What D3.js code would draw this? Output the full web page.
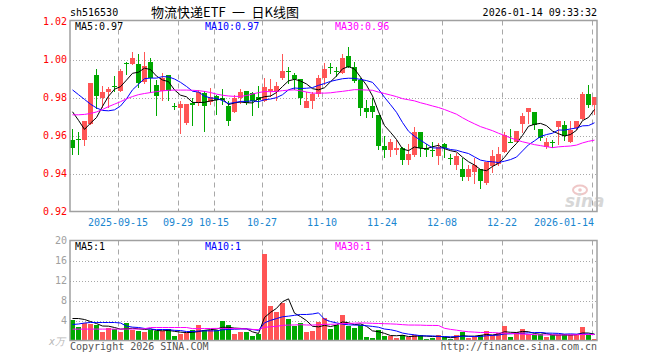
<!DOCTYPE html>
<html>
<head>
<meta charset="utf-8">
<script src="https://cdn.jsdelivr.net/npm/d3@7"></script>
<style>
  body { margin: 0; background: #fff; }
  svg { display: block; }
  text { font-family: "DejaVu Sans Mono", monospace; font-size: 10px; }
</style>
</head>
<body>
<svg id="chart" width="660" height="360"></svg>
<script>
// trading days shown, 2025-09-03 .. 2026-01-14
const dates = [
  '2025-09-03','2025-09-04','2025-09-05','2025-09-08','2025-09-09','2025-09-10','2025-09-11','2025-09-12','2025-09-15','2025-09-16',
  '2025-09-17','2025-09-18','2025-09-19','2025-09-22','2025-09-23','2025-09-24','2025-09-25','2025-09-26','2025-09-29','2025-09-30',
  '2025-10-09','2025-10-10','2025-10-13','2025-10-14','2025-10-15','2025-10-16','2025-10-17','2025-10-20','2025-10-21','2025-10-22',
  '2025-10-23','2025-10-24','2025-10-27','2025-10-28','2025-10-29','2025-10-30','2025-10-31','2025-11-03','2025-11-04','2025-11-05',
  '2025-11-06','2025-11-07','2025-11-10','2025-11-11','2025-11-12','2025-11-13','2025-11-14','2025-11-17','2025-11-18','2025-11-19',
  '2025-11-20','2025-11-21','2025-11-24','2025-11-25','2025-11-26','2025-11-27','2025-11-28','2025-12-01','2025-12-02','2025-12-03',
  '2025-12-04','2025-12-05','2025-12-08','2025-12-09','2025-12-10','2025-12-11','2025-12-12','2025-12-15','2025-12-16','2025-12-17',
  '2025-12-18','2025-12-19','2025-12-22','2025-12-23','2025-12-24','2025-12-25','2025-12-26','2025-12-29','2025-12-30','2025-12-31',
  '2026-01-05','2026-01-06','2026-01-07','2026-01-08','2026-01-09','2026-01-12','2026-01-13','2026-01-14'
]

const opens = [
  0.9575,0.9583,0.9575,0.9663,0.9918,0.9796,0.9828,0.9862,0.9835,0.9983,
  0.9977,0.9977,0.9881,0.9988,0.9867,0.9835,0.9916,0.9753,0.9747,0.9665,
  0.9770,0.9775,0.9823,0.9775,0.9809,0.9800,0.9756,0.9723,0.9796,0.9832,
  0.9826,0.9805,0.9782,0.9835,0.9828,0.9905,0.9938,0.9916,0.9896,0.9744,
  0.9779,0.9817,0.9902,0.9959,0.9938,0.9928,1.0019,0.9958,0.9893,0.9744,
  0.9756,0.9709,0.9546,0.9525,0.9525,0.9533,0.9472,0.9495,0.9621,0.9533,
  0.9525,0.9493,0.9554,0.9482,0.9446,0.9423,0.9381,0.9410,0.9425,0.9349,
  0.9437,0.9449,0.9512,0.9568,0.9568,0.9661,0.9723,0.9723,0.9633,0.9542,
  0.9565,0.9647,0.9653,0.9565,0.9642,0.9688,0.9818,0.9758
]
const closes = [
  0.9533,0.9580,0.9675,0.9875,0.9809,0.9828,0.9846,0.9860,0.9942,0.9982,
  1.0007,0.9875,0.9967,0.9905,0.9809,0.9905,0.9832,0.9749,0.9767,0.9765,
  0.9758,0.9828,0.9756,0.9805,0.9788,0.9788,0.9677,0.9800,0.9828,0.9770,
  0.9782,0.9788,0.9854,0.9844,0.9863,0.9940,0.9936,0.9896,0.9800,0.9784,
  0.9817,0.9905,0.9951,0.9957,0.9935,1.0007,0.9963,0.9888,0.9744,0.9723,
  0.9723,0.9546,0.9525,0.9568,0.9533,0.9472,0.9504,0.9621,0.9533,0.9525,
  0.9520,0.9542,0.9533,0.9480,0.9493,0.9381,0.9423,0.9446,0.9361,0.9463,
  0.9493,0.9504,0.9604,0.9565,0.9625,0.9705,0.9744,0.9656,0.9589,0.9565,
  0.9563,0.9674,0.9595,0.9630,0.9674,0.9818,0.9758,0.9805
]
const highs = [
  0.9633,0.9618,0.9675,0.9876,0.9949,0.9858,0.9854,0.9911,0.9951,0.9986,
  1.0042,1.0028,1.0039,1.0010,0.9893,0.9928,0.9916,0.9770,0.9779,0.9765,
  0.9800,0.9840,0.9835,0.9849,0.9814,0.9844,0.9782,0.9814,0.9844,0.9832,
  0.9828,0.9861,0.9902,0.9896,0.9884,1.0028,0.9963,0.9928,0.9896,0.9828,
  0.9828,0.9919,0.9984,0.9980,0.9963,1.0028,1.0068,0.9989,0.9902,0.9788,
  0.9796,0.9709,0.9595,0.9581,0.9577,0.9537,0.9554,0.9644,0.9621,0.9554,
  0.9568,0.9560,0.9560,0.9502,0.9507,0.9480,0.9446,0.9484,0.9425,0.9463,
  0.9525,0.9542,0.9621,0.9633,0.9625,0.9718,0.9744,0.9723,0.9633,0.9586,
  0.9577,0.9674,0.9674,0.9674,0.9677,0.9828,0.9867,0.9805
]
const lows = [
  0.9498,0.9498,0.9545,0.9656,0.9740,0.9747,0.9744,0.9828,0.9828,0.9916,
  0.9972,0.9849,0.9872,0.9823,0.9704,0.9782,0.9782,0.9735,0.9609,0.9656,
  0.9651,0.9753,0.9621,0.9761,0.9709,0.9761,0.9651,0.9718,0.9765,0.9758,
  0.9704,0.9744,0.9774,0.9805,0.9782,0.9893,0.9870,0.9840,0.9761,0.9744,
  0.9740,0.9805,0.9867,0.9923,0.9910,0.9923,0.9954,0.9875,0.9704,0.9691,
  0.9691,0.9525,0.9481,0.9489,0.9495,0.9446,0.9446,0.9489,0.9489,0.9489,
  0.9489,0.9446,0.9481,0.9446,0.9419,0.9358,0.9358,0.9347,0.9319,0.9342,
  0.9402,0.9437,0.9507,0.9560,0.9565,0.9612,0.9660,0.9630,0.9572,0.9530,
  0.9533,0.9551,0.9572,0.9560,0.9630,0.9682,0.9744,0.9709
]
// volume, in 万
const volumes = [
  4.2,2.67,3.6,3.4,3.07,1.73,2.53,2.27,1.73,3.53,
  2.2,1.93,1.73,2.2,1.93,1.93,2.27,0.87,1.33,1.53,
  2.13,3.07,2.07,2.07,2.07,3.93,3.07,1.27,1.73,1.73,
  0.87,1.4,17.27,6.87,5.73,7.53,4.27,2.93,3.47,1.67,
  1.87,3.67,4.47,2.27,3.07,5.07,2.87,2.53,3.07,0.67,
  0.47,2.07,0.87,0.87,0.47,1.0,0.73,1.2,1.2,0.27,
  0.53,1.0,0.6,0.4,1.0,1.73,0.53,0.67,1.2,1.87,
  1.2,1.6,2.87,0.67,1.67,2.27,1.27,1.2,1.4,0.67,
  1.0,1.2,1.4,1.13,1.13,2.67,1.13,0.33
]

// moving average values before a full window exists
const ma5Lead = [0.9725,0.9680,0.9632,0.9665]
const ma10Lead = [0.9840,0.9815,0.9790,0.9765,0.9745,0.9732,0.9730,0.9735,0.9755]
const ma30Lead = [
  0.9709,0.9709,0.9711,0.9716,0.9724,0.9737,0.9752,0.9765,0.9778,0.9793,
  0.9805,0.9815,0.9821,0.9826,0.9831,0.9835,0.9838,0.9839,0.9839,0.9839,
  0.9838,0.9836,0.9832,0.9826,0.9818,0.9812,0.9808,0.9806,0.9806
]
const volMa5Lead = [4.4,4.4,4.2,3.8]
const volMa10Lead = [3.2,3.3,3.5,3.6,3.6,3.6,3.6,3.6,3.5]
const volMa30Lead = [
  2.27,2.27,2.28,2.28,2.28,2.28,2.28,2.28,2.28,2.3,
  2.3,2.3,2.35,2.6,2.6,2.6,2.6,2.6,2.6,2.6,
  2.38,2.38,2.4,2.4,2.42,2.42,2.4,2.38,2.36
]

const priceTicks = [0.92, 0.94, 0.96, 0.98, 1.00, 1.02]
const volTicks = [4, 8, 12, 16, 20]
const dateTicks = ['2025-09-15','2025-09-29','2025-10-15','2025-10-27','2025-11-10','2025-11-24','2025-12-08','2025-12-22','2026-01-14']
const dateTickLabels = ['2025-09-15','09-29','10-15','10-27','11-10','11-24','12-08','12-22','2026-01-14']
const volSkipTicks = ['2025-10-15']  // no grid line in the volume pane there

const RED = '#ff5555', GREEN = '#00a800', GRID = '#a8a8a8'

const svg = d3.select('#chart')
const left = 70, right = 597
const pTop = 20.5, pBot = 211.5
const vTop = 240.5, vBot = 340.5

const x = d3.scaleBand().domain(dates).range([left, right]).paddingInner(1 / 6)
const y = d3.scaleLinear().domain([0.92, 1.02]).range([pBot, pTop + 1])
const yv = d3.scaleLinear().domain([0, 20]).range([vBot, vTop])

const cx = d => x(d) + 2.5

function movingAvg(vals, n, lead) {
  return vals.map((v, i) => i < n - 1 ? lead[i] : d3.mean(vals.slice(i - n + 1, i + 1)))
}

const candles = dates.map((d, i) => ({
  date: d, o: opens[i], c: closes[i], h: highs[i], l: lows[i], v: volumes[i]
}))
const colorOf = k => k.c >= k.o ? RED : GREEN

// ---------- title row
svg.append('text').attr('x', 70).attr('y', 16).text('sh516530')
svg.append('text').attr('x', 151).attr('y', 17)
  .style('font-family', '"Noto Sans CJK SC", sans-serif').style('font-size', '13px')
  .style('white-space', 'pre')
  .text('物流快递ETF\u2002一\u2002日K线图')
svg.append('text').attr('x', right).attr('y', 16).attr('text-anchor', 'end').text('2026-01-14 09:33:32')

// ---------- grids
function grid(top, bot, ticksY, yScale, skip) {
  const g = svg.append('g')
  g.selectAll('line.h').data(ticksY).enter().append('line')
    .attr('x1', left).attr('x2', right)
    .attr('y1', d => Math.round(yScale(d)) + 0.5).attr('y2', d => Math.round(yScale(d)) + 0.5)
    .attr('stroke', GRID).attr('stroke-dasharray', '1,2')
  g.selectAll('line.v').data(dateTicks.filter(d => skip.indexOf(d) < 0)).enter().append('line')
    .attr('x1', d => x(d) + 0.5).attr('x2', d => x(d) + 0.5)
    .attr('y1', top).attr('y2', bot)
    .attr('stroke', GRID).attr('stroke-dasharray', '5,4')
}
grid(pTop, pBot, priceTicks.slice(1, -1), y, [])
grid(vTop, vBot, volTicks.slice(0, -1), yv, volSkipTicks)

// ---------- candles
const cg = svg.append('g').attr('shape-rendering', 'crispEdges')
cg.selectAll('rect.wick').data(candles).enter().append('rect')
  .attr('x', d => x(d.date) + 2).attr('width', 1)
  .attr('y', d => Math.round(y(d.h))).attr('height', d => Math.max(1, Math.round(y(d.l)) - Math.round(y(d.h))))
  .attr('fill', colorOf)
cg.selectAll('rect.body').data(candles).enter().append('rect')
  .attr('x', d => x(d.date)).attr('width', x.bandwidth())
  .attr('y', d => Math.round(y(Math.max(d.o, d.c))))
  .attr('height', d => Math.max(1, Math.round(y(Math.min(d.o, d.c))) - Math.round(y(Math.max(d.o, d.c)))))
  .attr('fill', colorOf)

// ---------- volume bars
cg.selectAll('rect.vol').data(candles).enter().append('rect')
  .attr('x', d => x(d.date)).attr('width', x.bandwidth())
  .attr('y', d => Math.round(yv(d.v))).attr('height', d => Math.round(yv(0)) - Math.round(yv(d.v)))
  .attr('fill', colorOf)

// ---------- moving average lines
const maSets = [
  { vals: movingAvg(closes, 5, ma5Lead), scale: y, color: '#000' },
  { vals: movingAvg(closes, 10, ma10Lead), scale: y, color: '#0000ff' },
  { vals: movingAvg(closes, 30, ma30Lead), scale: y, color: '#ff00ff' },
  { vals: movingAvg(volumes, 5, volMa5Lead), scale: yv, color: '#000' },
  { vals: movingAvg(volumes, 10, volMa10Lead), scale: yv, color: '#0000ff' },
  { vals: movingAvg(volumes, 30, volMa30Lead), scale: yv, color: '#ff00ff' }
]
maSets.forEach(m => {
  const line = d3.line().x((v, i) => cx(dates[i])).y(v => m.scale(v))
  svg.append('path').datum(m.vals).attr('d', line)
    .attr('fill', 'none').attr('stroke', m.color).attr('stroke-width', 1)
})

// ---------- frames
svg.append('rect').attr('x', left).attr('y', pTop).attr('width', right - left).attr('height', pBot - pTop)
  .attr('fill', 'none').attr('stroke', '#a0a0a0').attr('stroke-width', 1.5)
svg.append('rect').attr('x', left).attr('y', vTop).attr('width', right - left).attr('height', vBot - vTop)
  .attr('fill', 'none').attr('stroke', '#a0a0a0').attr('stroke-width', 1.5)

// small ticks on the bottom of price pane
svg.selectAll('line.tick').data(dateTicks).enter().append('line')
  .attr('x1', d => x(d) + 0.5).attr('x2', d => x(d) + 0.5)
  .attr('y1', pBot - 3).attr('y2', pBot)
  .attr('stroke', '#a0a0a0')

// ---------- axis labels
svg.selectAll('text.py').data(priceTicks).enter().append('text')
  .attr('x', 67).attr('y', d => y(d) + 3.5).attr('text-anchor', 'end')
  .attr('fill', '#ff0000').text(d => d.toFixed(2))
svg.selectAll('text.vy').data(volTicks).enter().append('text')
  .attr('x', 67).attr('y', d => yv(d) + 3.5).attr('text-anchor', 'end')
  .attr('fill', '#a0a0a0').text(d => d)
svg.append('text').attr('x', 65).attr('y', 345).attr('text-anchor', 'end')
  .attr('fill', '#b8b8b8').style('font-style', 'italic').text('x万')

svg.selectAll('text.dx').data(dateTicks).enter().append('text')
  .attr('x', (d, i) => Math.min(x(d), right - 3 - dateTickLabels[i].length * 3))
  .attr('y', 226).attr('text-anchor', 'middle').attr('fill', '#1a86d0')
  .text((d, i) => dateTickLabels[i])

// ---------- legends
const last = a => a[a.length - 1]
const legends = [
  { x: 75, txt: 'MA5:' + last(maSets[0].vals).toFixed(2), color: '#000' },
  { x: 205, txt: 'MA10:' + last(maSets[1].vals).toFixed(2), color: '#0000ff' },
  { x: 335, txt: 'MA30:' + last(maSets[2].vals).toFixed(2), color: '#ff00ff' }
]
svg.selectAll('text.lg').data(legends).enter().append('text')
  .attr('x', d => d.x).attr('y', 30).attr('fill', d => d.color).text(d => d.txt)
const volLegends = [
  { x: 75, txt: 'MA5:' + Math.round(last(maSets[3].vals)), color: '#000' },
  { x: 205, txt: 'MA10:' + Math.round(last(maSets[4].vals)), color: '#0000ff' },
  { x: 335, txt: 'MA30:' + Math.round(last(maSets[5].vals)), color: '#ff00ff' }
]
svg.selectAll('text.vlg').data(volLegends).enter().append('text')
  .attr('x', d => d.x).attr('y', 250).attr('fill', d => d.color).text(d => d.txt)

// ---------- footer
svg.append('text').attr('x', 70).attr('y', 350).attr('fill', '#555').text('Copyright 2026 SINA.COM')
svg.append('text').attr('x', right).attr('y', 350).attr('text-anchor', 'end').attr('fill', '#555').text('http://finance.sina.com.cn')

// ---------- watermark
const wm = svg.append('g').attr('opacity', 0.55)
wm.append('ellipse').attr('cx', 580).attr('cy', 190).attr('rx', 7).attr('ry', 4.5)
  .attr('fill', 'none').attr('stroke', '#e39a9a').attr('stroke-width', 2)
wm.append('circle').attr('cx', 580).attr('cy', 190).attr('r', 1.8).attr('fill', '#e39a9a')
wm.append('text').attr('x', 565).attr('y', 207)
  .style('font-family', '"DejaVu Sans", sans-serif').style('font-size', '17px')
  .style('font-style', 'italic').style('font-weight', 'bold')
  .attr('fill', '#b8b8b8').text('sina')
</script>
</body>
</html>
